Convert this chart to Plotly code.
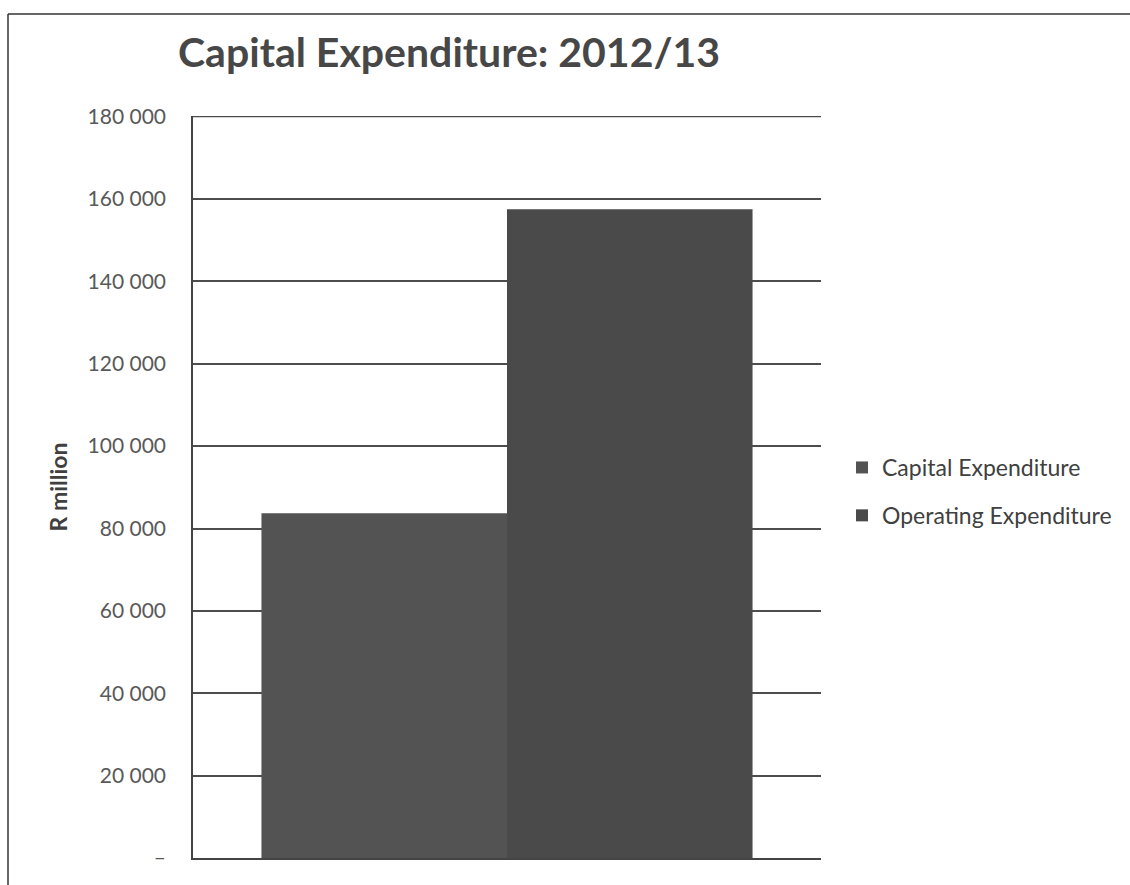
import plotly.graph_objects as go

# Expenditure for the 2012/13 year, R million
year = ["2012/13"]
series_names = ["Capital Expenditure", "Operating Expenditure"]
capital_values = [83700]
operating_values = [157500]
series_colors = ["#535353", "#4a4a4a"]

tick_values = [0, 20000, 40000, 60000, 80000, 100000, 120000, 140000, 160000, 180000]
tick_labels = ["–", "20 000", "40 000", "60 000", "80 000", "100 000",
               "120 000", "140 000", "160 000", "180 000"]
y_max = 180000

W, H = 1130, 885
L, R, T, B = 193, 309, 116, 27

fig = go.Figure()
for name, vals, col in zip(series_names, [capital_values, operating_values], series_colors):
    fig.add_trace(go.Bar(
        x=year, y=vals, name=name, legendgroup=name,
        marker=dict(color=col, line=dict(width=0)),
    ))

# outer chart frame (left and top edges)
pw = W - L - R
ph = H - T - B
def px_x(v):
    return (v - L) / pw
def px_y(v):
    return (H - B - v) / ph

fig.add_shape(type="line", xref="paper", yref="paper",
              x0=px_x(8), x1=px_x(8), y0=px_y(14), y1=px_y(H + 2),
              line=dict(color="#333333", width=1.5))
fig.add_shape(type="line", xref="paper", yref="paper",
              x0=px_x(8), x1=px_x(W + 2), y0=px_y(14), y1=px_y(14),
              line=dict(color="#333333", width=1.5))
# gridline at the top of the value axis
fig.add_shape(type="line", xref="paper", yref="y", layer="below",
              x0=0, x1=1, y0=y_max, y1=y_max,
              line=dict(color="#4d4d4d", width=1.5))

fig.update_layout(
    width=W, height=H,
    margin=dict(l=L, r=R, t=T, b=B, autoexpand=False),
    paper_bgcolor="white", plot_bgcolor="white",
    barmode="group", bargap=0.218, bargroupgap=0,
    font=dict(family="Lato, 'Open Sans', sans-serif", color="#595959"),
    title=dict(text="<b>Capital Expenditure: 2012/13</b>",
               x=178 / W, xanchor="left", y=1 - 53 / H, yanchor="middle",
               font=dict(size=41, color="#474747", family="Lato, sans-serif")),
    legend=dict(x=px_x(842), xanchor="left", y=px_y(446), yanchor="top",
                font=dict(size=23, color="#404040"),
                traceorder="grouped", tracegroupgap=15,
                itemwidth=30, bgcolor="rgba(0,0,0,0)"),
    showlegend=True,
)

fig.update_xaxes(showticklabels=False, showgrid=False, zeroline=False,
                 showline=True, linecolor="#444444", linewidth=1.5, ticks="")
fig.update_yaxes(range=[0, y_max + 150], tickmode="array",
                 tickvals=tick_values, ticktext=tick_labels,
                 showgrid=True, gridcolor="#4d4d4d", gridwidth=1.5,
                 showline=True, linecolor="#444444", linewidth=1.5,
                 zeroline=False, ticks="", ticklabelstandoff=21,
                 tickfont=dict(size=21, color="#595959"),
                 title=dict(text="<b>R million</b>", standoff=14,
                            font=dict(size=23, color="#404040")))

fig.write_html("out.html")
